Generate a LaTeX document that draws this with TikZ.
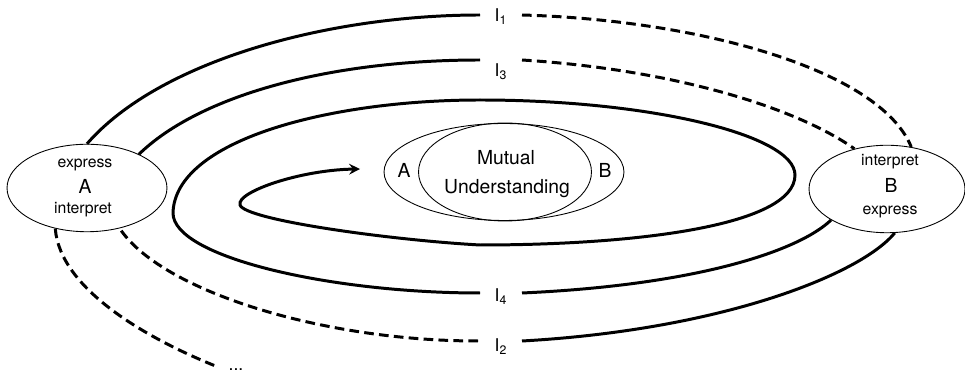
\documentclass[tikz,border=0pt]{standalone}
\usepackage{fontspec}
\setmainfont{TeX Gyre Heros}
\usetikzlibrary{shapes.geometric, arrows}
\tikzstyle{agent} = [
    ellipse,
    minimum width=3.2cm,
    minimum height=1.75cm,
    inner sep=0pt,
    line width=0.5pt,
    draw=black
]
\tikzstyle{outerset} = [
    ellipse,
    minimum width=4.8cm,
    minimum height=1.94cm,
    inner sep=0pt,
    line width=0.5pt,
    draw=black
]
\tikzstyle{innerset} = [
    ellipse,
    minimum width=3.46cm,
    minimum height=1.96cm,
    inner sep=0pt,
    line width=0.5pt,
    draw=black
]
\tikzstyle{smallword} = [anchor=base, inner sep=0pt, font=\fontsize{9}{10}\selectfont]
\tikzstyle{bigword} = [anchor=base, inner sep=0pt, font=\fontsize{11}{12}\selectfont]
\tikzstyle{roundlabel} = [anchor=base, inner sep=0pt, font=\fontsize{10}{12}\selectfont]
\tikzstyle{solidline} = [line width=1.7pt]
\tikzstyle{dashline} = [line width=1.7pt, dash pattern=on 5.5pt off 3pt]
\tikzstyle{arrow} = [line width=1.7pt,->,>=stealth]

\begin{document}
\begin{tikzpicture}[x=0.02cm, y=-0.02cm]

\useasboundingbox (0,0) rectangle (965,374);

% the two speakers
\node (A) [agent] at (87,188) {};
\node (Aexp) [smallword] at (85,168) {express};
\node (Aname) [bigword] at (85,194) {A};
\node (Aint) [smallword] at (83,214) {interpret};

\node (B) [agent, minimum width=3.12cm] at (887,189) {};
\node (Bint) [smallword] at (890,166) {interpret};
\node (Bname) [bigword] at (891,193) {B};
\node (Bexp) [smallword] at (890,215) {express};

% the common ground
\node (venn) [outerset] at (504,172) {};
\node (mutual) [innerset] at (505,172) {};
\node (vennA) [bigword] at (404,178) {A};
\node (vennB) [bigword] at (605,178) {B};
\node (mut1) [bigword] at (506,165) {Mutual};
\node (mut2) [bigword] at (507,194) {Understanding};

% iteration labels
\node (I1) [roundlabel] at (501,22) {I\textsubscript{1}};
\node (I3) [roundlabel] at (501,77) {I\textsubscript{3}};
\node (I4) [roundlabel] at (501,302) {I\textsubscript{4}};
\node (I2) [roundlabel] at (501,352) {I\textsubscript{2}};
\node (more) [roundlabel] at (236,371) {...};

\coordinate (I1l) at (480,15);
\coordinate (I1r) at (522,15);
\coordinate (I3l) at (480,60);
\coordinate (I3r) at (522,60);
\coordinate (I4l) at (480,293);
\coordinate (I4r) at (522,293);
\coordinate (I2l) at (478,341);
\coordinate (I2r) at (522,341);
\coordinate (moreend) at (218,367);
\coordinate (tip) at (360,169);

% first round
\draw [solidline] (A.north) .. controls (160,60) and (330,15) .. (I1l);
\draw [dashline] (I1r) .. controls (700,20) and (880,70) .. (B.60);

% second round
\draw [solidline] (B.280) .. controls (860,275) and (720,330) .. (I2r);
\draw [dashline] (I2l) .. controls (320,341) and (160,290) .. (A.309);

% third round
\draw [solidline] (A.33) .. controls (200,95) and (330,60) .. (I3l);
\draw [dashline] (I3r) .. controls (680,70) and (800,110) .. (B.129);

% fourth round, spiralling in
\draw [solidline] (B.209) .. controls (800,250) and (700,285) .. (I4r);
\draw [arrow] (I4l) .. controls (330,293) and (173,257) .. (173,213)
    .. controls (175,140) and (330,100) .. (480,100)
    .. controls (650,100) and (795,135) .. (795,175)
    .. controls (795,225) and (640,245) .. (480,245)
    .. controls (390,240) and (245,220) .. (240,205)
    .. controls (236,192) and (300,170) .. (tip);

\draw [dashline] (A.232) .. controls (60,290) and (150,340) .. (moreend);

\end{tikzpicture}
\end{document}
